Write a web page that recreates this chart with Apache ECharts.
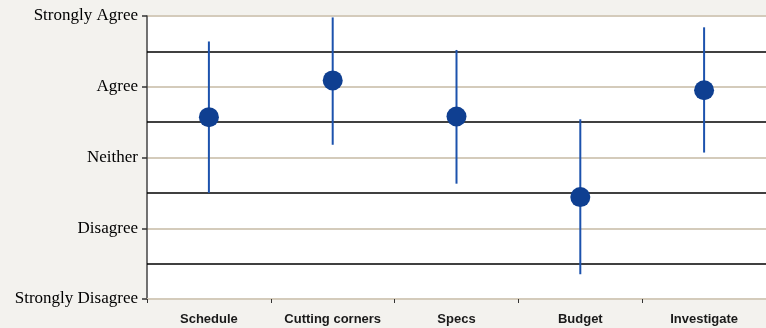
<!DOCTYPE html>
<html>
<head>
<meta charset="utf-8">
<script src="https://cdn.jsdelivr.net/npm/echarts@6/dist/echarts.min.js"></script>
<style>
html,body{margin:0;padding:0;background:#f3f2ee;}
#c{width:766px;height:328px;}
</style>
</head>
<body>
<div id="c"></div>
<script>
const categories = ['Schedule', 'Cutting corners', 'Specs', 'Budget', 'Investigate'];
const means = [3.57, 4.09, 3.58, 2.44, 3.95];
const lows = [2.50, 3.18, 2.63, 1.35, 3.07];
const highs = [4.64, 4.98, 4.52, 3.54, 4.84];
const scaleLabels = ['Strongly Disagree', 'Disagree', 'Neither', 'Agree', 'Strongly Agree'];
const dividers = [1.5, 2.5, 3.5, 4.5];

const chart = echarts.init(document.getElementById('c'), null, {renderer: 'canvas'});
chart.setOption({
  backgroundColor: '#f3f2ee',
  animation: false,
  grid: {left: 147, right: 0, top: 16, bottom: 29, show: true, backgroundColor: '#ffffff', borderWidth: 0},
  xAxis: {
    type: 'category',
    data: categories,
    axisLine: {lineStyle: {color: '#d4cbbb', width: 2}},
    axisTick: {show: true, interval: 0, length: 4, lineStyle: {color: '#333', width: 1}},
    axisLabel: {interval: 0, margin: 14, color: '#1a1a1a', fontFamily: 'Liberation Sans, Arial, sans-serif', fontWeight: 'bold', fontSize: 13}
  },
  yAxis: {
    type: 'value',
    min: 1, max: 5, interval: 1,
    axisLine: {show: true, lineStyle: {color: '#444', width: 1.5}},
    axisTick: {show: true, length: 5, lineStyle: {color: '#333', width: 1.5}},
    splitLine: {show: true, lineStyle: {color: '#d4cbbb', width: 2}},
    axisLabel: {
      margin: 9, color: '#000', fontFamily: 'Liberation Serif, Times New Roman, serif', fontSize: 17,
      formatter: v => scaleLabels[Math.round(v) - 1]
    }
  },
  series: [
    {
      type: 'line',
      data: [],
      z: 1,
      markLine: {
        z: 1,
        silent: true,
        symbol: 'none',
        label: {show: false},
        lineStyle: {color: '#000', width: 1.5, type: 'solid', opacity: 1},
        emphasis: {disabled: true},
        data: dividers.map(d => ({yAxis: d}))
      }
    },
    {
      type: 'custom',
      data: categories.map((c, i) => [i, lows[i], highs[i]]),
      renderItem: function (params, api) {
        const p1 = api.coord([api.value(0), api.value(1)]);
        const p2 = api.coord([api.value(0), api.value(2)]);
        return {
          type: 'line',
          shape: {x1: p1[0], y1: p1[1], x2: p2[0], y2: p2[1]},
          style: {stroke: '#1c52ad', lineWidth: 2}
        };
      },
      z: 8
    },
    {
      type: 'scatter',
      data: means,
      symbol: 'circle',
      symbolSize: 20,
      itemStyle: {color: '#0f3f91', opacity: 1},
      z: 10
    }
  ]
});
</script>
</body>
</html>
